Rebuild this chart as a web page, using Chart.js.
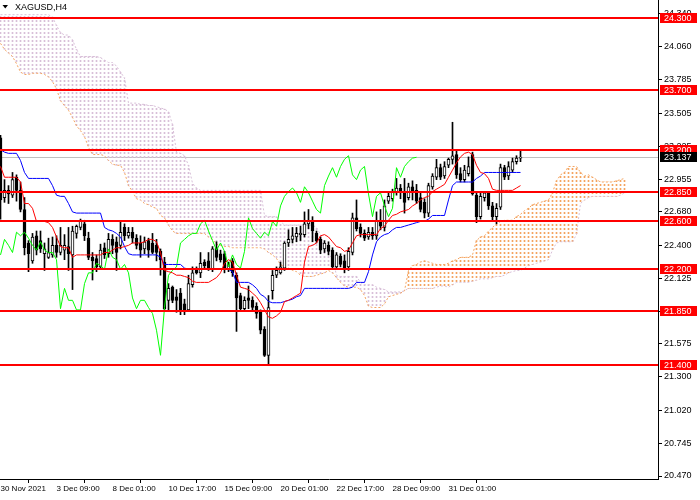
<!DOCTYPE html>
<html><head><meta charset="utf-8">
<script src="https://cdn.jsdelivr.net/npm/chart.js@4.4.1/dist/chart.umd.min.js"></script>
<style>html,body{margin:0;padding:0;background:#fff}canvas{display:block}</style>
</head><body>
<canvas id="c" width="700" height="500"></canvas>
<script>
const symbolTitle = 'XAGUSD,H4';
const xTickBars = [0,14,28,42,56,70,84,98,112];
const xTickLabels = ['30 Nov 2021','3 Dec 09:00','8 Dec 01:00','10 Dec 17:00','15 Dec 09:00','20 Dec 01:00','22 Dec 17:00','28 Dec 09:00','31 Dec 01:00'];
const yTickValues = [24.340,24.060,23.785,23.505,23.225,22.955,22.680,22.400,22.125,21.850,21.575,21.300,21.020,20.745,20.470];
const levels = [24.300,23.700,23.200,22.850,22.600,22.200,21.850,21.400];
const bidPrice = 23.137;

const opens = [
23.30,22.80,22.86,22.82,22.97,22.86,22.70,22.42,22.27,22.48,
22.44,22.33,22.30,22.32,22.40,22.34,22.36,22.39,22.32,22.50,
22.55,22.58,22.46,22.30,22.29,22.22,22.38,22.33,22.45,22.43,
22.40,22.55,22.48,22.51,22.46,22.42,22.37,22.44,22.42,22.40,
22.35,22.26,21.94,22.05,21.97,22.00,21.91,21.86,22.07,22.20,
22.17,22.26,22.27,22.20,22.38,22.33,22.33,22.20,22.27,22.15,
21.98,21.87,21.96,21.94,21.89,21.84,21.70,21.48,22.02,22.15,
22.17,22.21,22.42,22.45,22.47,22.49,22.49,22.58,22.60,22.50,
22.45,22.37,22.40,22.36,22.22,22.31,22.27,22.22,22.34,22.63,
22.55,22.50,22.47,22.51,22.48,22.61,22.55,22.77,22.79,22.84,
22.88,22.85,22.80,22.89,22.86,22.80,22.76,22.67,22.89,22.97,
23.05,22.98,23.07,23.12,23.16,23.00,22.95,23.00,23.16,22.82,
22.64,22.80,22.84,22.73,22.64,22.72,23.05,22.98,23.03,23.10,
23.13];
const highs = [
23.32,22.95,22.90,23.01,22.99,22.93,22.80,22.44,22.50,22.52,
22.52,22.42,22.46,22.47,22.48,22.55,22.49,22.55,22.56,22.57,
22.62,22.61,22.51,22.34,22.32,22.41,22.42,22.50,22.49,22.47,
22.60,22.58,22.55,22.55,22.49,22.48,22.47,22.46,22.50,22.45,
22.37,22.30,22.08,22.06,22.03,22.04,21.95,22.15,22.22,22.22,
22.34,22.28,22.34,22.39,22.43,22.36,22.35,22.26,22.29,22.17,
22.00,21.97,22.06,21.97,21.92,21.86,21.72,21.98,22.19,22.22,
22.26,22.43,22.53,22.55,22.55,22.56,22.68,22.70,22.64,22.52,
22.47,22.44,22.43,22.38,22.34,22.33,22.32,22.38,22.67,22.78,
22.58,22.53,22.55,22.55,22.68,22.70,22.78,22.84,22.87,22.96,
22.91,22.96,22.92,22.94,22.91,22.84,22.79,22.92,23.00,23.12,
23.08,23.10,23.13,23.43,23.20,23.05,23.07,23.14,23.18,22.84,
22.84,22.85,22.85,22.76,22.75,23.08,23.07,23.10,23.13,23.15,
23.20];
const lows = [
22.62,22.76,22.75,22.80,22.77,22.68,22.32,22.18,22.25,22.32,
22.34,22.19,22.29,22.30,22.30,22.32,22.28,22.19,22.03,22.46,
22.53,22.44,22.28,22.11,22.18,22.20,22.29,22.30,22.33,22.19,
22.37,22.44,22.46,22.42,22.37,22.30,22.33,22.30,22.33,22.27,
22.15,21.85,21.86,21.92,21.84,21.82,21.82,21.85,22.05,22.16,
22.13,22.21,22.19,22.18,22.27,22.26,22.17,22.18,22.14,21.68,
21.85,21.85,21.87,21.85,21.79,21.66,21.47,21.41,21.95,22.13,
22.16,22.19,22.39,22.42,22.43,22.44,22.47,22.54,22.43,22.42,
22.33,22.34,22.32,22.20,22.20,22.22,22.17,22.19,22.32,22.52,
22.47,22.44,22.45,22.45,22.45,22.53,22.52,22.75,22.77,22.82,
22.79,22.67,22.78,22.78,22.75,22.68,22.63,22.64,22.87,22.95,
22.95,22.96,23.05,23.08,22.96,22.93,22.93,22.98,22.82,22.59,
22.62,22.77,22.70,22.60,22.58,22.70,22.95,22.95,23.01,23.08,
23.10];
const closes = [
22.78,22.86,22.83,22.95,22.86,22.70,22.38,22.33,22.47,22.36,
22.37,22.37,22.34,22.40,22.34,22.40,22.40,22.33,22.52,22.56,
22.60,22.48,22.30,22.27,22.22,22.36,22.32,22.45,22.40,22.34,
22.51,22.48,22.51,22.46,22.40,22.36,22.43,22.36,22.34,22.34,
22.28,21.87,22.04,21.94,21.94,21.86,21.86,22.08,22.17,22.17,
22.25,22.23,22.20,22.37,22.30,22.28,22.20,22.24,22.17,21.96,
21.87,21.94,21.94,21.88,21.83,21.69,21.48,21.88,22.15,22.19,
22.22,22.42,22.45,22.48,22.50,22.50,22.58,22.61,22.52,22.44,
22.36,22.42,22.35,22.22,22.32,22.24,22.21,22.35,22.63,22.54,
22.50,22.46,22.51,22.48,22.60,22.56,22.73,22.81,22.85,22.88,
22.84,22.76,22.89,22.84,22.77,22.70,22.67,22.90,22.98,23.05,
22.97,23.06,23.12,23.15,22.99,22.95,23.03,23.06,22.83,22.64,
22.81,22.84,22.73,22.64,22.71,23.05,22.97,23.06,23.10,23.13,
23.137];

const tenkan = [
23.06,22.97,22.97,22.97,22.97,22.93,22.75,22.75,22.71,22.60,
22.60,22.60,22.59,22.55,22.47,22.39,22.38,22.38,22.30,22.32,
22.32,22.32,22.32,22.32,22.32,22.32,22.34,22.34,22.36,22.38,
22.38,22.39,22.40,22.42,22.42,22.42,22.43,22.45,22.45,22.43,
22.34,22.19,22.18,22.17,22.15,22.15,22.14,22.13,22.10,22.09,
22.09,22.09,22.09,22.11,22.13,22.17,22.25,22.28,22.26,22.15,
22.05,22.04,22.03,22.00,21.97,21.92,21.86,21.80,21.79,21.81,
21.84,21.93,21.94,21.96,21.98,22.00,22.26,22.39,22.40,22.42,
22.48,22.49,22.47,22.43,22.39,22.38,22.35,22.36,22.42,22.48,
22.49,22.49,22.49,22.49,22.49,22.54,22.56,22.61,22.65,22.66,
22.68,22.69,22.70,22.73,22.75,22.78,22.80,22.81,22.85,22.87,
22.89,22.91,22.97,23.03,23.09,23.14,23.17,23.18,23.16,23.07,
23.01,23.00,22.96,22.87,22.86,22.86,22.86,22.86,22.86,22.88,
22.90];
const kijun = [
23.20,23.18,23.17,23.17,23.17,23.11,23.01,22.96,22.96,22.96,
22.96,22.96,22.96,22.90,22.82,22.81,22.81,22.75,22.68,22.67,
22.67,22.67,22.67,22.67,22.67,22.67,22.55,22.53,22.52,22.50,
22.47,22.39,22.33,22.32,22.32,22.32,22.32,22.32,22.32,22.32,
22.30,22.24,22.24,22.24,22.24,22.24,22.21,22.20,22.20,22.20,
22.20,22.20,22.20,22.20,22.20,22.20,22.20,22.20,22.18,22.09,
22.09,22.09,22.09,22.07,22.04,21.99,21.97,21.93,21.92,21.92,
21.92,21.93,21.94,21.95,21.97,21.98,22.04,22.04,22.04,22.04,
22.04,22.04,22.04,22.04,22.04,22.04,22.04,22.04,22.05,22.09,
22.09,22.09,22.18,22.32,22.43,22.47,22.49,22.50,22.53,22.55,
22.55,22.56,22.57,22.58,22.59,22.60,22.60,22.62,22.65,22.65,
22.65,22.65,22.78,22.90,22.93,22.93,22.93,22.93,22.93,22.96,
22.98,23.01,23.01,23.01,23.01,23.01,23.01,23.01,23.01,23.01,
23.01];
const chikou = [
22.32,22.45,22.40,22.34,22.51,22.48,22.51,22.46,22.40,22.36,
22.43,22.36,22.34,22.34,22.28,21.87,22.04,21.94,21.94,21.86,
21.86,22.08,22.17,22.17,22.25,22.23,22.20,22.37,22.30,22.28,
22.20,22.24,22.17,21.96,21.87,21.94,21.94,21.88,21.83,21.69,
21.48,21.88,22.15,22.19,22.22,22.42,22.45,22.48,22.50,22.50,
22.58,22.61,22.52,22.44,22.36,22.42,22.35,22.22,22.32,22.24,
22.21,22.35,22.63,22.54,22.50,22.46,22.51,22.48,22.60,22.56,
22.73,22.81,22.85,22.88,22.84,22.76,22.89,22.84,22.77,22.70,
22.67,22.90,22.98,23.05,22.97,23.06,23.12,23.15,22.99,22.95,
23.03,23.06,22.83,22.64,22.81,22.84,22.73,22.64,22.71,23.05,
22.97,23.06,23.10,23.13,23.137];
const spanA = [
24.09,24.04,24.01,23.98,23.92,23.85,23.83,23.83,23.84,23.84,
23.84,23.83,23.81,23.77,23.71,23.61,23.57,23.53,23.47,23.40,
23.36,23.31,23.22,23.16,23.16,23.16,23.15,23.11,23.08,23.07,
23.07,23.01,22.90,22.85,22.79,22.78,22.75,22.74,22.72,22.71,
22.65,22.63,22.57,22.52,22.50,22.50,22.50,22.50,22.50,22.50,
22.50,22.50,22.47,22.45,22.41,22.40,22.39,22.39,22.38,22.38,
22.38,22.38,22.38,22.38,22.38,22.38,22.37,22.34,22.32,22.29,
22.24,22.22,22.21,22.19,22.18,22.15,22.14,22.14,22.14,22.15,
22.16,22.17,22.19,22.17,22.13,22.09,22.06,22.05,22.05,22.05,
22.03,21.98,21.89,21.88,21.88,21.88,21.91,21.97,21.98,21.99,
22.00,22.02,22.19,22.23,22.24,22.26,22.27,22.26,22.25,22.24,
22.24,22.24,22.25,22.27,22.28,22.30,22.30,22.30,22.32,22.44,
22.47,22.48,22.52,22.55,22.58,22.60,22.61,22.61,22.61,22.64,
22.66,22.69,22.71,22.74,22.75,22.76,22.77,22.78,22.84,22.94,
22.99,23.01,23.06,23.06,23.06,23.01,22.98,22.99,22.97,22.95,
22.93,22.93,22.93,22.93,22.94,22.95,22.96];
const spanB = [
24.33,24.33,24.33,24.33,24.33,24.33,24.33,24.33,24.33,24.33,
24.33,24.33,24.33,24.31,24.24,24.18,24.16,24.16,24.12,24.04,
23.98,23.98,23.98,23.98,23.98,23.97,23.95,23.93,23.93,23.90,
23.85,23.80,23.59,23.59,23.59,23.58,23.58,23.57,23.57,23.56,
23.55,23.54,23.52,23.41,23.18,23.17,23.15,23.07,22.92,22.88,
22.86,22.86,22.86,22.86,22.86,22.86,22.86,22.86,22.86,22.86,
22.86,22.86,22.86,22.86,22.86,22.86,22.65,22.64,22.64,22.64,
22.60,22.57,22.57,22.57,22.57,22.57,22.57,22.57,22.57,22.55,
22.49,22.36,22.33,22.29,22.15,22.14,22.14,22.14,22.14,22.14,
22.09,22.07,22.07,22.07,22.05,22.04,22.03,22.01,22.01,22.01,
22.01,22.02,22.04,22.04,22.04,22.04,22.04,22.04,22.04,22.05,
22.06,22.06,22.05,22.07,22.09,22.09,22.09,22.09,22.10,22.11,
22.12,22.12,22.12,22.13,22.14,22.14,22.15,22.17,22.18,22.19,
22.19,22.21,22.23,22.24,22.25,22.26,22.27,22.28,22.36,22.42,
22.43,22.43,22.43,22.43,22.49,22.75,22.78,22.80,22.81,22.81,
22.81,22.81,22.81,22.81,22.81,22.82,22.84];

const FONT = '"Liberation Sans", Arial, sans-serif';
const canvas = document.getElementById('c');
const ctx0 = canvas.getContext('2d');
function hatch(color){
  const p = document.createElement('canvas'); p.width = 1; p.height = 4;
  const g = p.getContext('2d'); g.fillStyle = color; g.fillRect(0,0,1,2);
  return ctx0.createPattern(p, 'repeat');
}
const COL_A = '#f4a460', COL_B = '#d8bfd8';
const patA = hatch(COL_A), patB = hatch(COL_B);

const cloudData = spanA.map((a,i)=>({x:i, y:[Math.min(a,spanB[i]), Math.max(a,spanB[i])]}));
const cloudColors = spanA.map((a,i)=> a >= spanB[i] ? patA : patB);
const wickData = opens.map((o,i)=>({x:i, y:[lows[i], highs[i]]}));
const bodyData = opens.map((o,i)=>({x:i, y:[o, closes[i]]}));
const bodyColors = opens.map((o,i)=> closes[i] >= o ? '#ffffff' : '#000000');
const pts = arr => arr.map((v,i)=>({x:i, y:v}));
const lineDs = (label, arr, color, order, dash) => ({
  type:'line', label, data: pts(arr), borderColor: color, borderWidth: 1,
  pointRadius: 0, tension: 0, fill: false, order, borderDash: dash || []
});

const overlay = {
  id: 'overlay',
  beforeDatasetsDraw(chart){
    const {ctx, chartArea:a, scales:{y}} = chart;
    const py = Math.round(y.getPixelForValue(bidPrice)) + 0.5;
    ctx.save(); ctx.strokeStyle = '#c0c0c0'; ctx.lineWidth = 1;
    ctx.beginPath(); ctx.moveTo(a.left, py); ctx.lineTo(a.right, py); ctx.stroke();
    ctx.restore();
  },
  afterDatasetsDraw(chart){
    const {ctx, chartArea:a, scales:{y}} = chart;
    ctx.save(); ctx.strokeStyle = '#ff0000'; ctx.lineWidth = 2;
    levels.forEach(v=>{
      const py = Math.round(y.getPixelForValue(v));
      ctx.beginPath(); ctx.moveTo(a.left, py); ctx.lineTo(a.right, py); ctx.stroke();
    });
    ctx.restore();
  },
  afterDraw(chart){
    const {ctx, chartArea:a, scales:{y}} = chart;
    ctx.save();
    ctx.font = '9px ' + FONT; ctx.textBaseline = 'middle'; ctx.textAlign = 'left';
    const box = (v, bg) => {
      const py = Math.round(y.getPixelForValue(v));
      ctx.fillStyle = bg; ctx.fillRect(a.right + 2, py - 5, 37, 10);
      ctx.fillStyle = '#ffffff'; ctx.fillText(v.toFixed(3), a.right + 6, py + 0.5);
    };
    levels.forEach(v => box(v, '#ff0000'));
    box(bidPrice, '#000000');
    ctx.fillStyle = '#000';
    ctx.beginPath(); ctx.moveTo(2.5,5); ctx.lineTo(8,5); ctx.lineTo(5.25,8.5); ctx.closePath(); ctx.fill();
    ctx.fillText(symbolTitle, 15, 7.5);
    ctx.restore();
  }
};

new Chart(canvas, {
  type: 'bar',
  data: { datasets: [
    { type:'bar', label:'cloud', data: cloudData, backgroundColor: cloudColors, barThickness: 1,
      grouped: false, borderWidth: 0, order: 10 },
    lineDs('Senkou Span A', spanA, COL_A, 9, [2,2]),
    lineDs('Senkou Span B', spanB, COL_B, 9, [2,2]),
    { type:'bar', label:'wick', data: wickData, backgroundColor: '#000000', barThickness: 1,
      grouped: false, borderWidth: 0, order: 6 },
    { type:'bar', label:'body', data: bodyData, backgroundColor: bodyColors, borderColor: '#000000',
      borderWidth: 1, borderSkipped: false, barThickness: 3, minBarLength: 1, grouped: false, order: 5 },
    lineDs('Chikou Span', chikou, '#00ff00', 3),
    lineDs('Kijun-sen', kijun, '#0000ff', 2),
    lineDs('Tenkan-sen', tenkan, '#ff0000', 1)
  ]},
  options: {
    responsive: false, animation: false, devicePixelRatio: 1, events: [],
    layout: { padding: 0 },
    plugins: { legend: { display: false }, tooltip: { enabled: false }, title: { display: false } },
    scales: {
      x: {
        type: 'linear', min: -0.125, max: 164.375, offset: false,
        grid: { drawOnChartArea: false, drawTicks: true, tickLength: 4, color: '#000' },
        border: { display: true, color: '#000' },
        afterBuildTicks(s){ s.ticks = xTickBars.map(v => ({value: v})); },
        afterFit(s){ s.height = 21; s.paddingLeft = 0; s.paddingRight = 0; },
        ticks: { autoSkip: false, maxRotation: 0, minRotation: 0, align: 'start', padding: 1, color: '#000',
          font: { family: FONT, size: 8 },
          callback(v){ const k = xTickBars.indexOf(v); return k >= 0 ? xTickLabels[k] : ''; } }
      },
      y: {
        type: 'linear', position: 'right', min: 20.445, max: 24.453,
        grid: { drawOnChartArea: false, drawTicks: true, tickLength: 4, color: '#000' },
        border: { display: true, color: '#000' },
        afterBuildTicks(s){ s.ticks = yTickValues.map(v => ({value: v})); },
        afterFit(s){ s.width = 42; s.paddingTop = 0; s.paddingBottom = 0; },
        ticks: { autoSkip: false, padding: 2, color: '#000', font: { family: FONT, size: 9 },
          callback: v => Number(v).toFixed(3) }
      }
    }
  },
  plugins: [overlay]
});
</script>
</body></html>
